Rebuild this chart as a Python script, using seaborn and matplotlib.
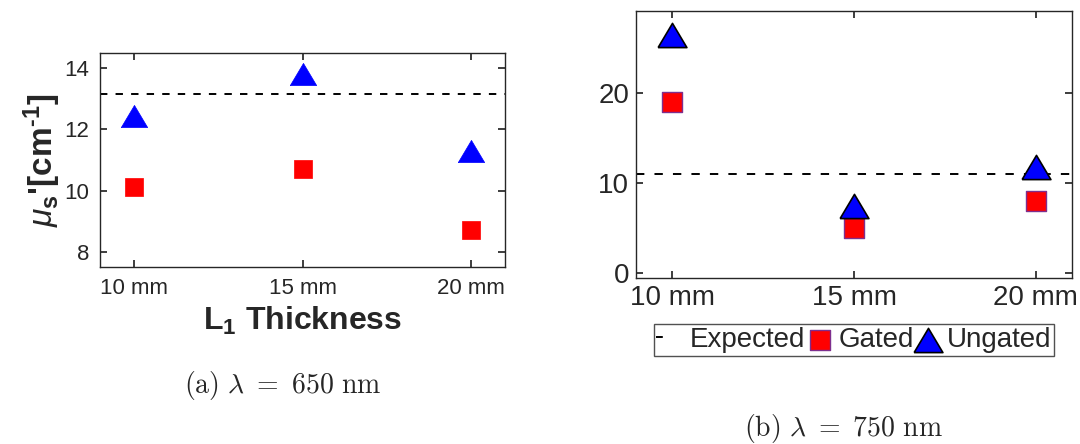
import numpy as np
import pandas as pd
import matplotlib
matplotlib.use("Agg")
import matplotlib.pyplot as plt
import seaborn as sns

# ---- data ----
thickness_mm = [10, 15, 20]
tick_labels = ["10 mm", "15 mm", "20 mm"]

gated_650 = [10.13, 10.71, 8.71]
ungated_650 = [12.45, 13.8, 11.3]
expected_650 = 13.15

gated_750 = [19.1, 5.1, 8.1]
ungated_750 = [26.5, 7.5, 11.8]
expected_750 = 11.0

sns.set_theme(style="ticks")
plt.rcParams["font.family"] = ["Liberation Sans", "DejaVu Sans"]
plt.rcParams["mathtext.fontset"] = "custom"
plt.rcParams["mathtext.rm"] = "Liberation Sans"
plt.rcParams["mathtext.it"] = "Liberation Sans:italic"
plt.rcParams["mathtext.bf"] = "Liberation Sans:bold"

edge_gray = "#262626"
tri = [(-1, -0.84), (1, -0.84), (0, 0.84), (-1, -0.84)]

fig = plt.figure(figsize=(10.8, 4.44), dpi=100)
axL = fig.add_axes([0.0926, 0.3986, 0.375, 0.482])
axR = fig.add_axes([0.5889, 0.3739, 0.4037, 0.602])

df650 = pd.DataFrame({"x": thickness_mm, "gated": gated_650, "ungated": ungated_650})
df750 = pd.DataFrame({"x": thickness_mm, "gated": gated_750, "ungated": ungated_750})

# left panel
axL.axhline(expected_650, color="black", linestyle=(0, (3.8, 4.2)), linewidth=1.4, zorder=1)
sns.scatterplot(data=df650, x="x", y="gated", ax=axL, marker="s", s=150,
                color="#ff0000", edgecolor="#ff0000", linewidth=0.5, zorder=3)
sns.scatterplot(data=df650, x="x", y="ungated", ax=axL, marker=tri, s=360,
                color="#0000ff", edgecolor="#0000ff", linewidth=0.5, zorder=3)
axL.set_xlim(9, 21)
axL.set_ylim(7.5, 14.5)
axL.set_yticks([8, 10, 12, 14])
axL.set_xticks(thickness_mm)
axL.set_xticklabels(tick_labels)
axL.tick_params(labelsize=16, colors=edge_gray, direction="in", length=5,
                top=True, right=True, pad=8)
axL.set_xlabel(r"L$_\mathbf{1}$ Thickness", fontsize=23, fontweight="bold",
               color=edge_gray, labelpad=4)
axL.set_ylabel("$\\mu_\\mathbf{s}$'[cm$^\\mathbf{\u20101}$]", fontsize=24,
               fontweight="bold", color=edge_gray, labelpad=1)

# right panel
axR.axhline(expected_750, color="black", linestyle=(0, (4.3, 5.2)), linewidth=1.4,
            zorder=1, label="Expected")
sns.scatterplot(data=df750, x="x", y="gated", ax=axR, marker="s", s=225,
                color="#ff0000", edgecolor="#7e2f8e", linewidth=1.0, zorder=3,
                label="Gated")
sns.scatterplot(data=df750, x="x", y="ungated", ax=axR, marker=tri, s=430,
                color="#0000ff", edgecolor="black", linewidth=1.2, zorder=4,
                label="Ungated")
axR.set_xlim(9, 21)
axR.set_ylim(-0.5, 29.2)
axR.set_yticks([0, 10, 20])
axR.set_xticks(thickness_mm)
axR.set_xticklabels(tick_labels)
axR.tick_params(labelsize=20, colors=edge_gray, direction="in", length=5,
                top=True, right=True, pad=5)
axR.set_xlabel("")
axR.set_ylabel("")

for ax in (axL, axR):
    for sp in ax.spines.values():
        sp.set_color(edge_gray)
        sp.set_linewidth(1.0)

handles, labels = axR.get_legend_handles_labels()
leg = axR.legend(handles, labels, ncol=3, loc="center",
                 bbox_to_anchor=(854 / 1080, 1 - 340 / 444),
                 bbox_transform=fig.transFigure, fontsize=20,
                 frameon=True, fancybox=False, edgecolor=edge_gray,
                 handlelength=1.05, handletextpad=0.15, columnspacing=0.0,
                 borderpad=0.1, borderaxespad=0, labelspacing=0.2)
leg.get_frame().set_linewidth(1.0)
for ln in leg.get_lines():
    ln.set_dashes([3.5, 40])
    ln.set_linewidth(1.4)

fig.text(283 / 1080, 1 - 385 / 444, r"$\mathrm{(a)}\ \lambda\ =\ 650\ \mathrm{nm}$",
         math_fontfamily="cm", fontsize=20, ha="center", va="center")
fig.text(843 / 1080, 1 - 428 / 444, r"$\mathrm{(b)}\ \lambda\ =\ 750\ \mathrm{nm}$",
         math_fontfamily="cm", fontsize=20, ha="center", va="center")

fig.savefig("out.png", dpi=100)
